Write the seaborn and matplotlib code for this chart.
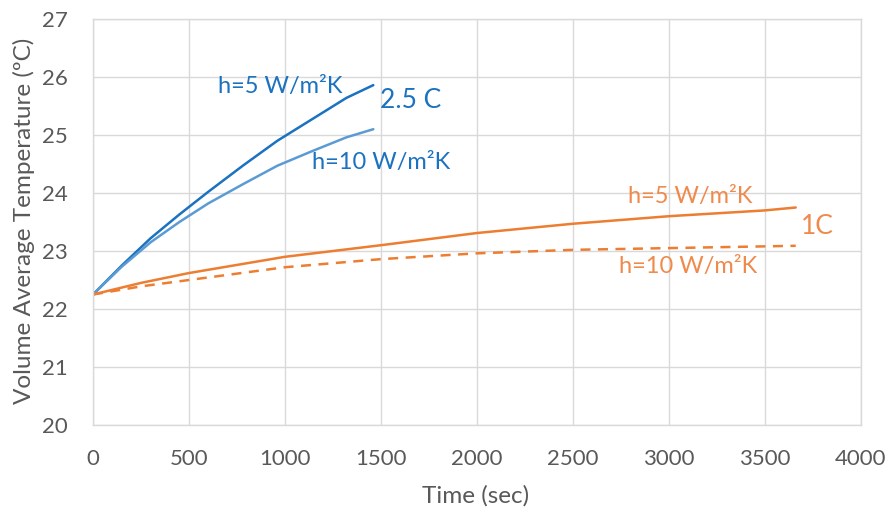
import matplotlib
matplotlib.use("Agg")
import matplotlib.pyplot as plt
import seaborn as sns

# 2.5C discharge
t_fast = [0, 150, 300, 450, 600, 780, 960, 1140, 1320, 1460]
fast_h5 = [22.25, 22.75, 23.22, 23.63, 24.02, 24.47, 24.90, 25.27, 25.64, 25.86]
fast_h10 = [22.25, 22.73, 23.15, 23.50, 23.82, 24.15, 24.47, 24.72, 24.96, 25.10]
# 1C discharge
t_slow = [0, 250, 500, 1000, 1500, 2000, 2500, 3000, 3500, 3660]
slow_h5 = [22.25, 22.45, 22.62, 22.90, 23.10, 23.31, 23.47, 23.60, 23.70, 23.75]
slow_h10 = [22.25, 22.39, 22.50, 22.72, 22.86, 22.96, 23.02, 23.05, 23.08, 23.09]

x_ticks = [0, 500, 1000, 1500, 2000, 2500, 3000, 3500, 4000]
y_ticks = [20, 21, 22, 23, 24, 25, 26, 27]

sns.set_theme(style="white")
plt.rcParams['font.family'] = ['Lato', 'DejaVu Sans']

W, H = 891, 514
fig = plt.figure(figsize=(W / 100, H / 100), dpi=100)
x0, x1, y0, y1 = 93, 861, 19, 425
ax = fig.add_axes([x0 / W, 1 - y1 / H, (x1 - x0) / W, (y1 - y0) / H])

dark_blue = "#1a72c0"
light_blue = "#5b9bd5"
orange = "#ed7d31"
txt_orange = "#f08a4b"

sns.lineplot(x=t_fast, y=fast_h5, ax=ax, color=dark_blue, linewidth=1.8)
sns.lineplot(x=t_fast, y=fast_h10, ax=ax, color=light_blue, linewidth=1.8)
sns.lineplot(x=t_slow, y=slow_h5, ax=ax, color=orange, linewidth=1.8)
sns.lineplot(x=t_slow, y=slow_h10, ax=ax, color=orange, linewidth=1.8, linestyle=(0, (4, 3)))

ax.set_xlim(0, 4000)
ax.set_ylim(20, 27)
ax.set_xticks(x_ticks)
ax.set_yticks(y_ticks)
ax.grid(True, color="#d9d9d9", linewidth=1)
for s in ax.spines.values():
    s.set_color("#d9d9d9")
    s.set_linewidth(1)
ax.tick_params(axis="x", length=0, labelsize=16, labelcolor="#595959", pad=17)
ax.tick_params(axis="y", length=0, labelsize=16, labelcolor="#595959", pad=18)
ax.set_xlabel("Time (sec)", fontsize=17.5, color="#595959")
ax.set_ylabel("Volume Average Temperature (ºC)", fontsize=17.5, color="#595959")
aw, ah = x1 - x0, y1 - y0
ax.xaxis.set_label_coords((476 - x0) / aw, (y1 - 496) / ah)
ax.xaxis.label.set_va("center")
ax.yaxis.set_label_coords((24 - x0) / aw, (y1 - 221) / ah)
ax.yaxis.label.set_va("center")

def px_text(x, y, s, size, color, ha="center"):
    ax.text(x, H - y, s, transform=None, fontsize=size, color=color, ha=ha, va="center")

px_text(280, 86, "h=5 W/m²K", 17, dark_blue)
px_text(380, 100, "2.5 C", 19, dark_blue, ha="left")
px_text(381, 162, "h=10 W/m²K", 17, dark_blue)
px_text(690, 197, "h=5 W/m²K", 17, txt_orange)
px_text(801, 226, "1C", 19, txt_orange, ha="left")
px_text(688, 266, "h=10 W/m²K", 17, txt_orange)

fig.savefig("out.png", dpi=100)
